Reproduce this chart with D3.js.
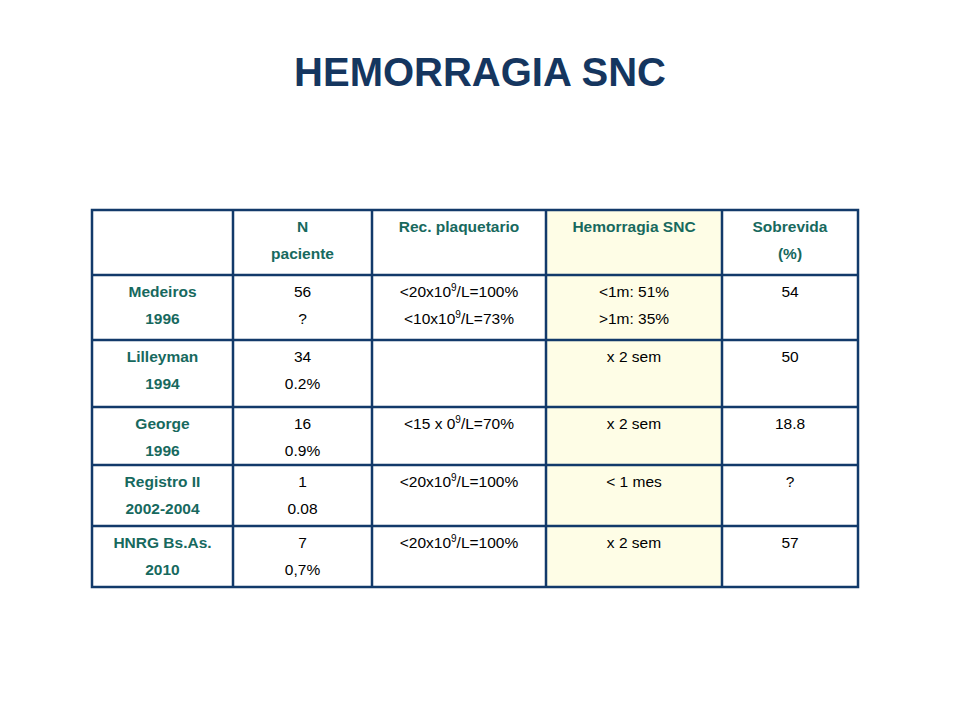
<!DOCTYPE html>
<html><head><meta charset="utf-8">
<script src="https://cdn.jsdelivr.net/npm/d3@7"></script>
<style>body{margin:0;background:#fff}</style></head>
<body><svg id="c" width="960" height="720"></svg>
<script>
const title = "HEMORRAGIA SNC";
const headers = [[""], ["N","paciente"], ["Rec. plaquetario"], ["Hemorragia SNC"], ["Sobrevida","(%)"]];
const studies = [["Medeiros","1996"],["Lilleyman","1994"],["George","1996"],["Registro II","2002-2004"],["HNRG Bs.As.","2010"]];
const nPaciente = [["56","?"],["34","0.2%"],["16","0.9%"],["1","0.08"],["7","0,7%"]];
const recPlaq = [["<20x10^9/L=100%","<10x10^9/L=73%"],[],["<15 x 0^9/L=70%"],["<20x10^9/L=100%"],["<20x10^9/L=100%"]];
const hemorragia = [["<1m: 51%",">1m: 35%"],["x 2 sem"],["x 2 sem"],["< 1 mes"],["x 2 sem"]];
const sobrevida = [["54"],["50"],["18.8"],["?"],["57"]];

const svg = d3.select("#c");
const colEdges = [92,233,372,546,722,858];
const rowEdges = [210,275,340,407,465,526,587];
const teal = "#17695e", navy = "#123a6a";

svg.append("text").attr("x",480).attr("y",86).attr("text-anchor","middle")
  .attr("font-family","Liberation Sans, Arial, sans-serif").attr("font-weight","bold")
  .attr("font-size",40).attr("fill","#15365f").text(title);

svg.append("rect").attr("x",colEdges[3]).attr("y",rowEdges[0]).attr("width",colEdges[4]-colEdges[3])
  .attr("height",rowEdges[6]-rowEdges[0]).attr("fill","#fefde6");

const rows = [headers];
studies.forEach((s,i)=>rows.push([s,nPaciente[i],recPlaq[i],hemorragia[i],sobrevida[i]]));

rows.forEach((row,ri)=>{
  row.forEach((lines,ci)=>{
    const cx = (colEdges[ci]+colEdges[ci+1])/2;
    const bold = ri===0 || ci===0;
    lines.forEach((ln,li)=>{
      const t = svg.append("text").attr("x",cx).attr("y",rowEdges[ri]+22+li*27)
        .attr("text-anchor","middle").attr("font-family","Liberation Sans, Arial, sans-serif")
        .attr("font-size",15.5).attr("font-weight",bold?"bold":"normal").attr("fill",bold?teal:"#000");
      const parts = ln.split("^9");
      parts.forEach((p,pi)=>{
        const sp = t.append("tspan").text(p);
        if(pi>0) sp.attr("dy",6);
        if(pi<parts.length-1) t.append("tspan").attr("font-size",10).attr("dy",-6).text("9");
      });
    });
  });
});

const g = svg.append("g").attr("stroke",navy).attr("stroke-width",2.5).attr("fill","none");
g.append("rect").attr("x",colEdges[0]).attr("y",rowEdges[0]).attr("width",colEdges[5]-colEdges[0]).attr("height",rowEdges[6]-rowEdges[0]);
colEdges.slice(1,5).forEach(c=>g.append("line").attr("x1",c).attr("x2",c).attr("y1",rowEdges[0]).attr("y2",rowEdges[6]));
rowEdges.slice(1,6).forEach(r=>g.append("line").attr("x1",colEdges[0]).attr("x2",colEdges[5]).attr("y1",r).attr("y2",r));
</script></body></html>
